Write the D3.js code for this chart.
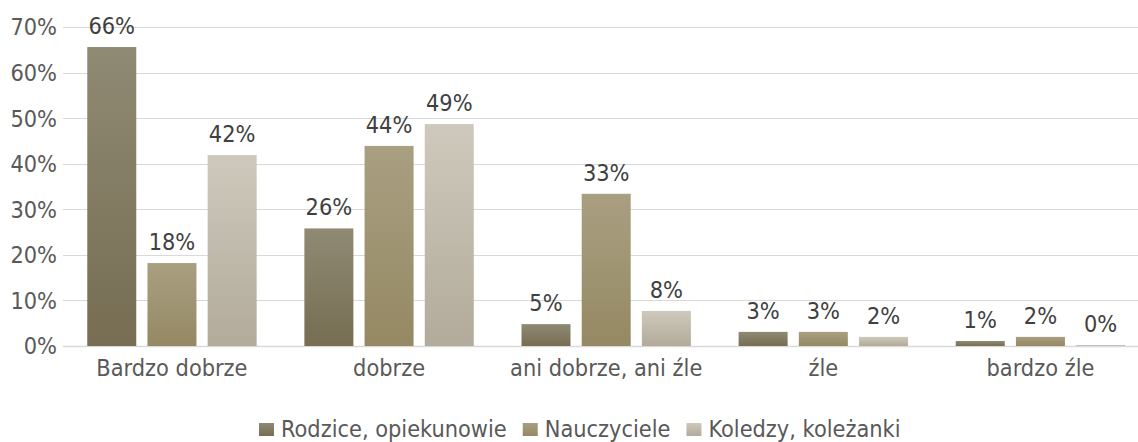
<!DOCTYPE html>
<html><head><meta charset="utf-8">
<script src="https://cdn.jsdelivr.net/npm/d3@7"></script>
<style>body{margin:0;background:#fff}svg{display:block}text{font-family:"DejaVu Sans Condensed","DejaVu Sans",sans-serif;font-stretch:condensed}</style>
</head><body><svg id="c" width="1138" height="442"></svg>
<script>
const categories = ["Bardzo dobrze","dobrze","ani dobrze, ani źle","źle","bardzo źle"];
const seriesNames = ["Rodzice, opiekunowie","Nauczyciele","Koledzy, koleżanki"];
const rodzice = [65.6, 25.8, 4.8, 3.1, 1.1];
const nauczyciele = [18.2, 43.9, 33.4, 3.1, 2.0];
const koledzy = [41.9, 48.7, 7.7, 2.0, 0.2];
const valueLabels = [["66%","26%","5%","3%","1%"],["18%","44%","33%","3%","2%"],["42%","49%","8%","2%","0%"]];
const yTicks = [0,10,20,30,40,50,60,70];

const series = [rodzice, nauczyciele, koledzy];
const grads = [["#8f8a74","#766d52"],["#a99f81","#958963"],["#cec9bc","#b2ab9b"]];
const FS = 23.3;
const svg = d3.select("#c");
const defs = svg.append("defs");
grads.forEach((g,i)=>{
  const lg = defs.append("linearGradient").attr("id","g"+i).attr("x1",0).attr("y1",0).attr("x2",0).attr("y2",1);
  lg.append("stop").attr("offset","0%").attr("stop-color",g[0]);
  lg.append("stop").attr("offset","100%").attr("stop-color",g[1]);
});
const y = d3.scaleLinear().domain([0,70]).range([346,27]);
const x0 = d3.scaleBand().domain(categories).range([63.4,1149]).paddingInner(0).paddingOuter(0);
const GW = 169.4;
const x1 = d3.scaleBand().domain([0,1,2]).range([0,GW]).paddingInner(0.186).paddingOuter(0);
const groupOff = (x0.bandwidth()-GW)/2;

// gridlines
svg.append("g").selectAll("line").data(yTicks).join("line")
  .attr("x1",63).attr("x2",1138).attr("y1",d=>Math.round(y(d))+0.5).attr("y2",d=>Math.round(y(d))+0.5)
  .attr("stroke","#d9d9d9").attr("stroke-width",d=>d===0?1.5:1.2);
// y labels
svg.append("g").selectAll("text").data(yTicks).join("text")
  .attr("x",57).attr("y",d=>y(d)).attr("dy","0.36em").attr("text-anchor","end")
  .attr("font-size",FS).attr("fill","#595959").text(d=>d+"%");

series.forEach((vals,si)=>{
  const g = svg.append("g");
  g.selectAll("rect").data(vals).join("rect")
    .attr("x",(d,i)=>x0(categories[i])+groupOff+x1(si))
    .attr("width",x1.bandwidth())
    .attr("y",d=>y(d)).attr("height",d=>Math.max(0,y(0)-y(d)))
    .attr("fill","url(#g"+si+")");
  g.selectAll("text").data(vals).join("text")
    .attr("x",(d,i)=>x0(categories[i])+groupOff+x1(si)+x1.bandwidth()/2)
    .attr("y",d=>y(d)-13).attr("text-anchor","middle")
    .attr("font-size",FS).attr("fill","#404040").text((d,i)=>valueLabels[si][i]);
});
// category labels
svg.append("g").selectAll("text").data(categories).join("text")
  .attr("x",d=>x0(d)+x0.bandwidth()/2).attr("y",376).attr("text-anchor","middle")
  .attr("font-size",FS).attr("fill","#595959").text(d=>d);

// legend
const leg = svg.append("g");
const items = leg.selectAll("g").data(seriesNames).join("g");
items.append("rect").attr("width",15).attr("height",13).attr("y",-14).attr("fill",(d,i)=>"url(#g"+i+")");
items.append("text").attr("x",22).attr("y",0).attr("font-size",FS).attr("fill","#595959").text(d=>d);
let xpos = 259;
items.each(function(){
  d3.select(this).attr("transform",`translate(${xpos},437)`);
  xpos += this.getBBox().width + 16;
});
</script></body></html>
